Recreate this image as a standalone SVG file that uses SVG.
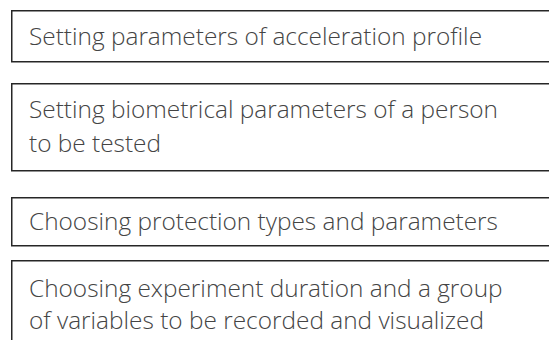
<svg xmlns="http://www.w3.org/2000/svg" width="549" height="340" viewBox="0 0 549 340">
<style>
.box{fill:#fff;stroke:#262626;stroke-width:1.5}
.t{font-family:"Open Sans","Liberation Sans",sans-serif;font-size:24.4px;font-weight:300;fill:#444}
</style>
<rect width="549" height="340" fill="#fff"/>
<g id="node1"><rect class="box" x="11.75" y="10.75" width="560" height="51"/>
<text class="t" x="29" y="45">Setting parameters of acceleration profile</text></g>
<g id="node2"><rect class="box" x="11.75" y="83.75" width="560" height="87"/>
<text class="t" x="29" y="118">Setting biometrical parameters of a person</text>
<text class="t" x="29" y="152">to be tested</text></g>
<g id="node3"><rect class="box" x="11.75" y="197.75" width="560" height="48"/>
<text class="t" x="29" y="230">Choosing protection types and parameters</text></g>
<g id="node4"><rect class="box" x="11.75" y="260.75" width="560" height="100"/>
<text class="t" x="29" y="297">Choosing experiment duration and a group</text>
<text class="t" x="29" y="329">of variables to be recorded and visualized</text></g>
<g id="connectors"></g>
</svg>
